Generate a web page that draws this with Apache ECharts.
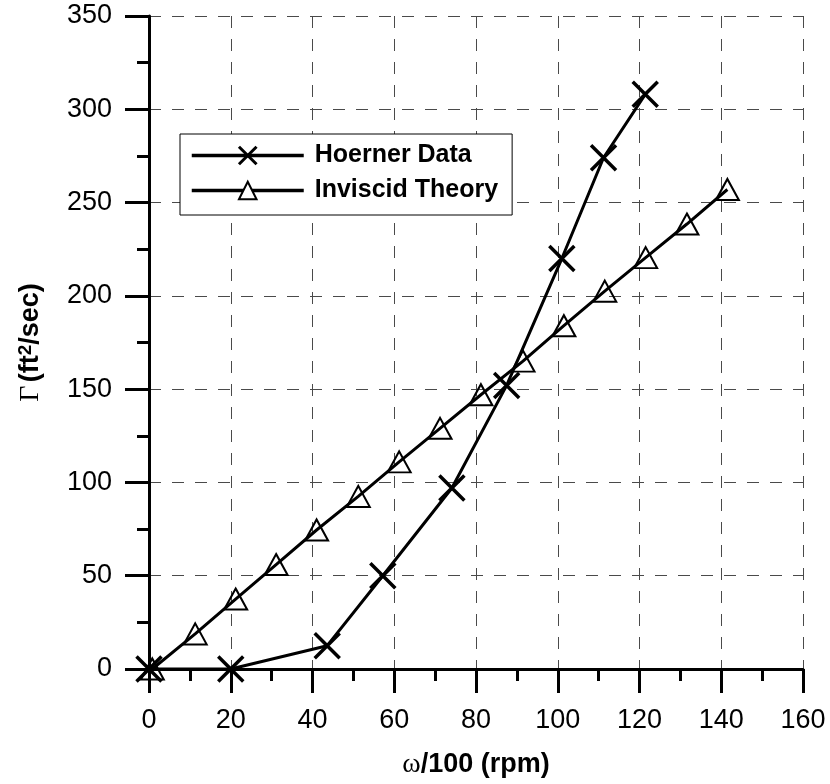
<!DOCTYPE html>
<html>
<head>
<meta charset="utf-8">
<title>Circulation vs rotation rate</title>
<script src="https://cdn.jsdelivr.net/npm/echarts@6/dist/echarts.min.js"></script>
<style>
  html, body { margin: 0; padding: 0; background: #fff; }
  #chart { width: 830px; height: 784px; }
</style>
</head>
<body>
<div id="chart"></div>
<script>
// Hoerner measurements
const hoernerX = [0, 20, 43.6, 57.2, 74.1, 87.5, 101, 111.2, 121.4];
const hoernerY = [0, 0, 12.5, 50, 97, 152, 220, 274, 308];

// Inviscid theory prediction
const theoryX = [0.8, 11.3, 21.2, 31.1, 41, 51.2, 61.2, 71.2, 81.2, 91.5, 101.5, 111.5, 121.5, 131.6, 141.5];
const theoryY = [0, 18.8, 37.5, 56, 74.5, 92.5, 111, 129, 147, 165, 184, 202.5, 220.5, 238.5, 257];

// Axis tick labels
const xTicks = [0, 20, 40, 60, 80, 100, 120, 140, 160];
const yTicks = [0, 50, 100, 150, 200, 250, 300, 350];

const seriesNames = ['Hoerner Data', 'Inviscid Theory'];

const pair = (xs, ys) => xs.map((x, i) => [x, ys[i]]);

const crossPath = 'path://M0,0L10,10M10,0L0,10';
const sans = 'Liberation Sans, Arial, sans-serif';
const serif = 'Liberation Serif, Times New Roman, serif';

const gridDash = { type: [12, 11], color: '#4a4a4a', width: 1 };

const chart = echarts.init(document.getElementById('chart'), null, { renderer: 'canvas' });

chart.setOption({
  animation: false,
  backgroundColor: '#fff',
  grid: { left: 149, right: 27, top: 16, bottom: 114, containLabel: false },
  legend: {
    orient: 'vertical',
    left: 180,
    top: 134,
    padding: [9, 14, 12, 10],
    itemGap: 10,
    itemWidth: 112,
    itemHeight: 22,
    backgroundColor: '#fff',
    borderColor: '#000',
    borderWidth: 1,
    lineStyle: { color: '#000', width: 3.5 },
    textStyle: { fontFamily: sans, fontWeight: 'bold', fontSize: 25, color: '#000', padding: [0, 0, 0, 6] },
    data: [
      { name: seriesNames[0], itemStyle: { color: 'rgba(0,0,0,0)', borderColor: '#000', borderWidth: 3 } },
      { name: seriesNames[1], itemStyle: { color: '#fff', borderColor: '#000', borderWidth: 2 } }
    ]
  },
  xAxis: {
    type: 'value',
    min: xTicks[0],
    max: xTicks[xTicks.length - 1],
    interval: xTicks[1] - xTicks[0],
    name: '{w|ω}{b|/100 (rpm)}',
    nameLocation: 'middle',
    nameGap: 82,
    nameTextStyle: {
      rich: {
        w: { fontFamily: serif, fontSize: 28, color: '#000' },
        b: { fontFamily: sans, fontWeight: 'bold', fontSize: 27, color: '#000' }
      }
    },
    axisLine: { lineStyle: { color: '#000', width: 3 } },
    axisTick: { show: true, inside: false, length: 24, lineStyle: { color: '#000', width: 3 } },
    minorTick: { show: true, splitNumber: 2, length: 12, lineStyle: { color: '#000', width: 3 } },
    axisLabel: { margin: 38, fontFamily: sans, fontSize: 27, color: '#000', formatter: v => String(v) },
    splitLine: { show: true, lineStyle: gridDash }
  },
  yAxis: {
    type: 'value',
    min: yTicks[0],
    max: yTicks[yTicks.length - 1],
    interval: yTicks[1] - yTicks[0],
    name: '{g|Γ} {b|(ft}{s|2}{b|/sec)}',
    nameLocation: 'middle',
    nameGap: 103,
    nameRotate: 90,
    nameTextStyle: {
      rich: {
        g: { fontFamily: serif, fontSize: 28, color: '#000' },
        b: { fontFamily: sans, fontWeight: 'bold', fontSize: 27, color: '#000', lineHeight: 30 },
        s: { fontFamily: sans, fontWeight: 'bold', fontSize: 19, color: '#000', verticalAlign: 'top' }
      }
    },
    axisLine: { show: true, lineStyle: { color: '#000', width: 3 } },
    axisTick: { show: true, inside: false, length: 24, lineStyle: { color: '#000', width: 3 } },
    minorTick: { show: true, splitNumber: 2, length: 12, lineStyle: { color: '#000', width: 3 } },
    axisLabel: { margin: 37, fontFamily: sans, fontSize: 27, color: '#000' },
    splitLine: { show: true, lineStyle: gridDash }
  },
  series: [
    {
      name: seriesNames[1],
      type: 'line',
      data: pair(theoryX, theoryY),
      symbol: 'triangle',
      symbolSize: [23, 21],
      showAllSymbol: true,
      lineStyle: { color: '#000', width: 3 },
      itemStyle: { color: 'rgba(0,0,0,0)', borderColor: '#000', borderWidth: 2 },
      emphasis: { disabled: true },
      z: 3
    },
    {
      name: seriesNames[0],
      type: 'line',
      data: pair(hoernerX, hoernerY),
      symbol: crossPath,
      symbolSize: 25,
      showAllSymbol: true,
      lineStyle: { color: '#000', width: 3 },
      itemStyle: { color: 'rgba(0,0,0,0)', borderColor: '#000', borderWidth: 3.5 },
      emphasis: { disabled: true },
      z: 4
    }
  ]
});
</script>
</body>
</html>
